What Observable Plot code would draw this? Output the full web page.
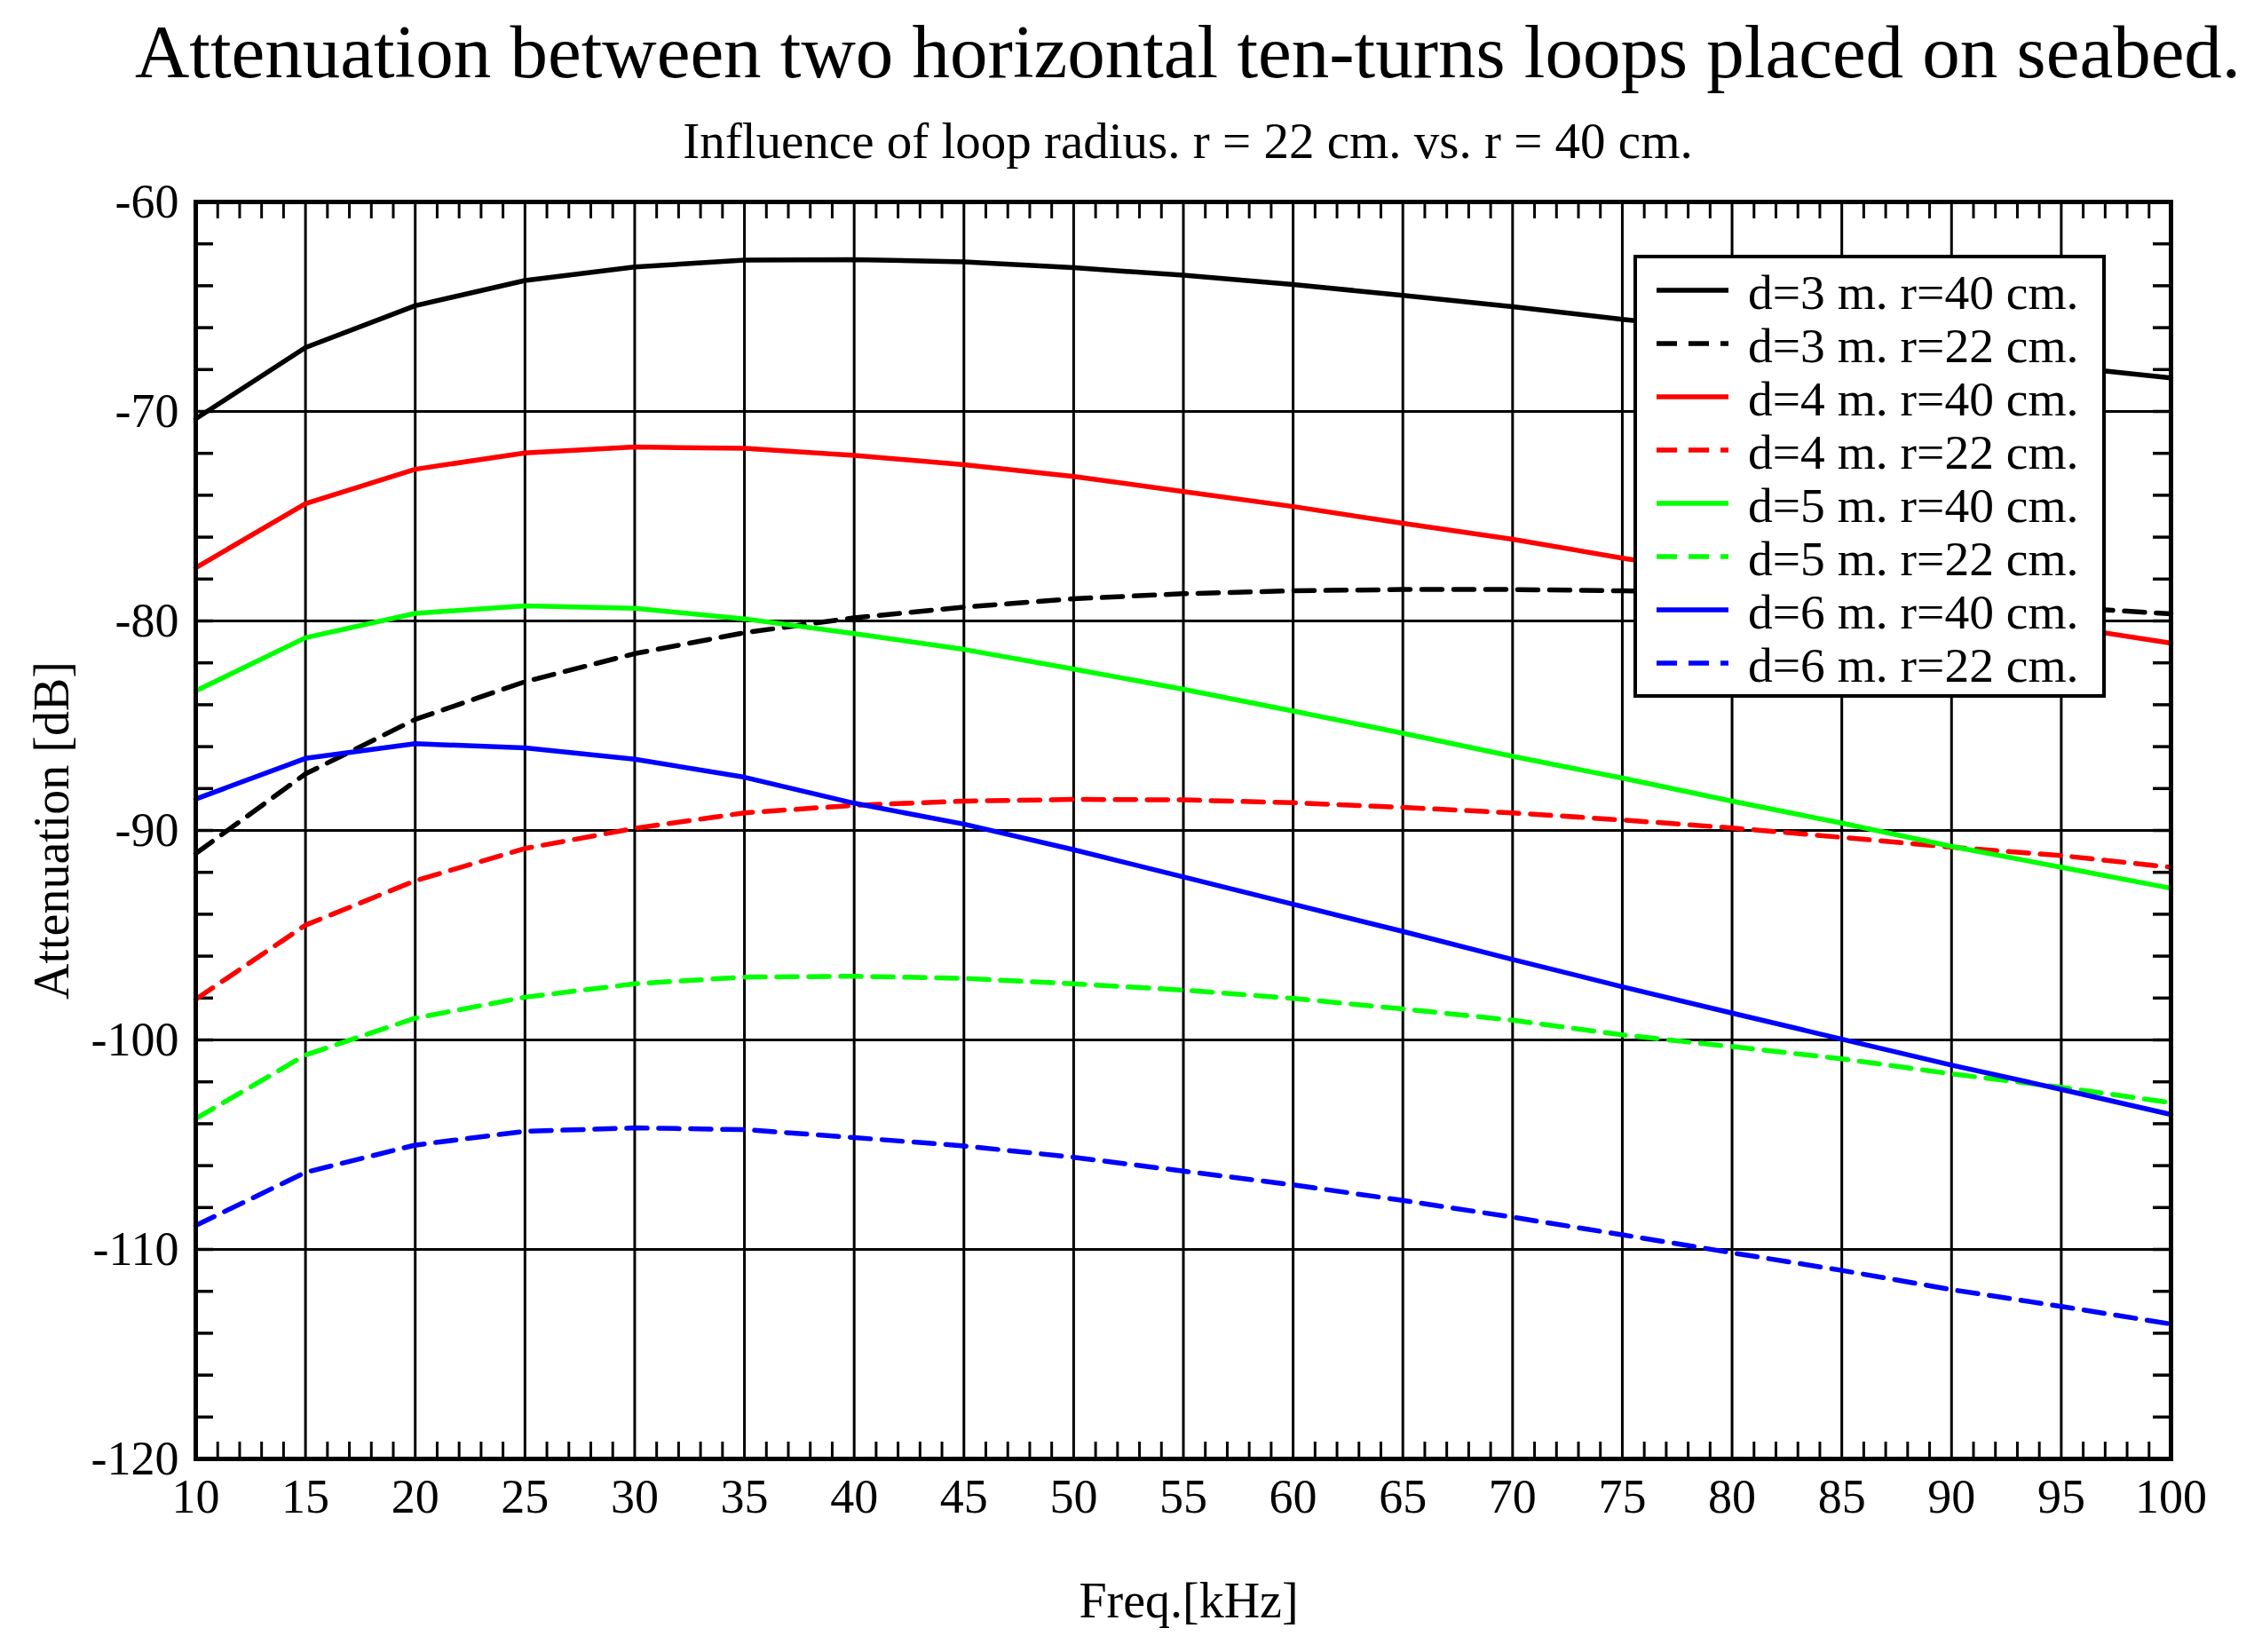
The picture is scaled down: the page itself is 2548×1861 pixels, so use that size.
<!DOCTYPE html>
<html>
<head>
<meta charset="utf-8">
<script src="https://cdn.jsdelivr.net/npm/d3@7"></script>
<script src="https://cdn.jsdelivr.net/npm/@observablehq/plot@0.6"></script>
<style>
html,body{margin:0;padding:0;background:#fff;}
#wrap{position:relative;width:2548px;height:1861px;font-family:"Liberation Serif","Times New Roman",serif;color:#000;overflow:hidden;background:#fff;}
.t{position:absolute;white-space:nowrap;line-height:1;transform:translateX(-50%);z-index:2;}
#title{left:1338px;top:16px;font-size:85px;}
#subtitle{left:1338px;top:130px;font-size:57px;}
#chart{position:absolute;left:0;top:195px;z-index:1;}
#chart svg{display:block;}
#legend{position:absolute;left:1840px;top:287px;width:532px;height:499px;box-sizing:border-box;border:4px solid #000;background:#fff;padding-top:6px;z-index:3;}
.row{display:flex;align-items:center;height:60px;}
.row svg{margin-left:22px;flex:none;}
.row span{margin-left:22px;font-size:55.5px;line-height:60px;white-space:nowrap;position:relative;top:3px;}
</style>
</head>
<body>
<div id="wrap">
  <div id="chart"></div>
  <div id="title" class="t">Attenuation between two horizontal ten-turns loops placed on seabed.</div>
  <div id="subtitle" class="t">Influence of loop radius. r = 22 cm. vs. r = 40 cm.</div>
  <div id="legend"></div>
</div>
<script>
// ---- data ----
const freq = [10, 15, 20, 25, 30, 35, 40, 45, 50, 55, 60, 65, 70, 75, 80, 85, 90, 95, 100];

const d3r40 = [-70.35, -66.95, -64.95, -63.75, -63.1, -62.78, -62.75, -62.86, -63.14, -63.5, -63.94, -64.46, -65.0, -65.6, -66.15, -66.7, -67.25, -67.85, -68.4];
const d3r22 = [-91.1, -87.3, -84.7, -82.9, -81.56, -80.56, -79.85, -79.34, -78.94, -78.7, -78.56, -78.5, -78.5, -78.56, -78.7, -78.9, -79.1, -79.35, -79.66];
const d4r40 = [-77.46, -74.4, -72.76, -71.98, -71.7, -71.76, -72.1, -72.54, -73.1, -73.82, -74.54, -75.34, -76.1, -77.0, -77.8, -78.65, -79.45, -80.25, -81.06];
const d4r22 = [-98.06, -94.52, -92.4, -90.86, -89.9, -89.16, -88.8, -88.6, -88.52, -88.54, -88.68, -88.9, -89.16, -89.5, -89.88, -90.33, -90.8, -91.2, -91.76];
const d5r40 = [-83.34, -80.8, -79.64, -79.28, -79.4, -79.9, -80.6, -81.36, -82.3, -83.26, -84.3, -85.36, -86.46, -87.5, -88.6, -89.65, -90.76, -91.76, -92.76];
const d5r22 = [-103.76, -100.72, -98.96, -97.96, -97.32, -97.0, -96.96, -97.06, -97.32, -97.62, -98.02, -98.52, -99.06, -99.76, -100.32, -100.9, -101.62, -102.26, -103.0];
const d6r40 = [-88.5, -86.56, -85.86, -86.06, -86.6, -87.46, -88.7, -89.7, -90.92, -92.22, -93.52, -94.82, -96.16, -97.46, -98.72, -99.96, -101.2, -102.36, -103.56];
const d6r22 = [-108.86, -106.32, -105.02, -104.36, -104.2, -104.28, -104.66, -105.06, -105.6, -106.26, -106.92, -107.66, -108.46, -109.3, -110.16, -111.0, -111.92, -112.72, -113.56];

const seriesNames = ["d=3 m. r=40 cm.", "d=3 m. r=22 cm.", "d=4 m. r=40 cm.", "d=4 m. r=22 cm.",
                     "d=5 m. r=40 cm.", "d=5 m. r=22 cm.", "d=6 m. r=40 cm.", "d=6 m. r=22 cm."];
const seriesValues = [d3r40, d3r22, d4r40, d4r22, d5r40, d5r22, d6r40, d6r22];
const seriesColors = ["#000000", "#000000", "#ff0000", "#ff0000", "#00ff00", "#00ff00", "#0000ff", "#0000ff"];
const seriesDashed = [false, true, false, true, false, true, false, true];

const xTicks = [10, 15, 20, 25, 30, 35, 40, 45, 50, 55, 60, 65, 70, 75, 80, 85, 90, 95, 100];
const yTicks = [-120, -110, -100, -90, -80, -70, -60];

// ---- layout ----
const W = 2548, H = 1666;
const mL = 220, mR = 103, mT = 32, mB = 218;
const innerW = W - mL - mR, innerH = H - mT - mB;
const DASH = "23,13";
const LW = 5.5;

const xMinor = d3.range(11, 100).filter(v => v % 5 !== 0);
const yMinor = d3.range(-118, -60, 2);

const lineMarks = seriesNames.map((name, i) =>
  Plot.line(freq.map((f, j) => ({f, v: seriesValues[i][j]})), {
    x: "f", y: "v",
    stroke: seriesColors[i],
    strokeWidth: LW,
    strokeLinejoin: "round",
    strokeDasharray: seriesDashed[i] ? DASH : null
  })
);

const chart = Plot.plot({
  width: W, height: H,
  marginLeft: mL, marginRight: mR, marginTop: mT, marginBottom: mB,
  x: {domain: [10, 100]},
  y: {domain: [-120, -60]},
  style: {fontFamily: '"Liberation Serif","Times New Roman",serif', fontSize: "54px", color: "#000", background: "transparent", overflow: "visible"},
  marks: [
    Plot.gridX(xTicks.slice(1, -1), {stroke: "#000", strokeOpacity: 1, strokeWidth: 3}),
    Plot.gridY(yTicks.slice(1, -1), {stroke: "#000", strokeOpacity: 1, strokeWidth: 3}),
    Plot.ruleX(xMinor, {stroke: "#000", strokeWidth: 3, insetTop: innerH - 19}),
    Plot.ruleX(xMinor, {stroke: "#000", strokeWidth: 3, insetBottom: innerH - 19}),
    Plot.ruleY(yMinor, {stroke: "#000", strokeWidth: 3.5, insetRight: innerW - 20}),
    Plot.ruleY(yMinor, {stroke: "#000", strokeWidth: 3.5, insetLeft: innerW - 20}),
    ...lineMarks,
    Plot.frame({stroke: "#000", strokeWidth: 5}),
    Plot.axisX(xTicks, {anchor: "bottom", tickSize: 0, tickPadding: 22, fontSize: 54, label: null, tickFormat: d => String(d)}),
    Plot.axisY(yTicks, {anchor: "left", tickSize: 0, tickPadding: 19, fontSize: 54, label: null, tickFormat: d => String(d)}),
    Plot.text(["Attenuation [dB]"], {frameAnchor: "left", dx: -144, rotate: -90, lineAnchor: "bottom", textAnchor: "middle", fontSize: 56}),
    Plot.text(["Freq.[kHz]"], {frameAnchor: "bottom", dx: 6, dy: 178, lineAnchor: "bottom", textAnchor: "middle", fontSize: 56})
  ]
});
document.getElementById("chart").appendChild(chart);

// ---- legend ----
const legend = document.getElementById("legend");
seriesNames.forEach((name, i) => {
  const row = document.createElement("div");
  row.className = "row";
  row.innerHTML =
    `<svg width="81" height="60"><line x1="0" y1="30" x2="81" y2="30" stroke="${seriesColors[i]}" stroke-width="${LW}"` +
    (seriesDashed[i] ? ` stroke-dasharray="${DASH}"` : "") + `/></svg><span>${name}</span>`;
  legend.appendChild(row);
});
</script>
</body>
</html>
